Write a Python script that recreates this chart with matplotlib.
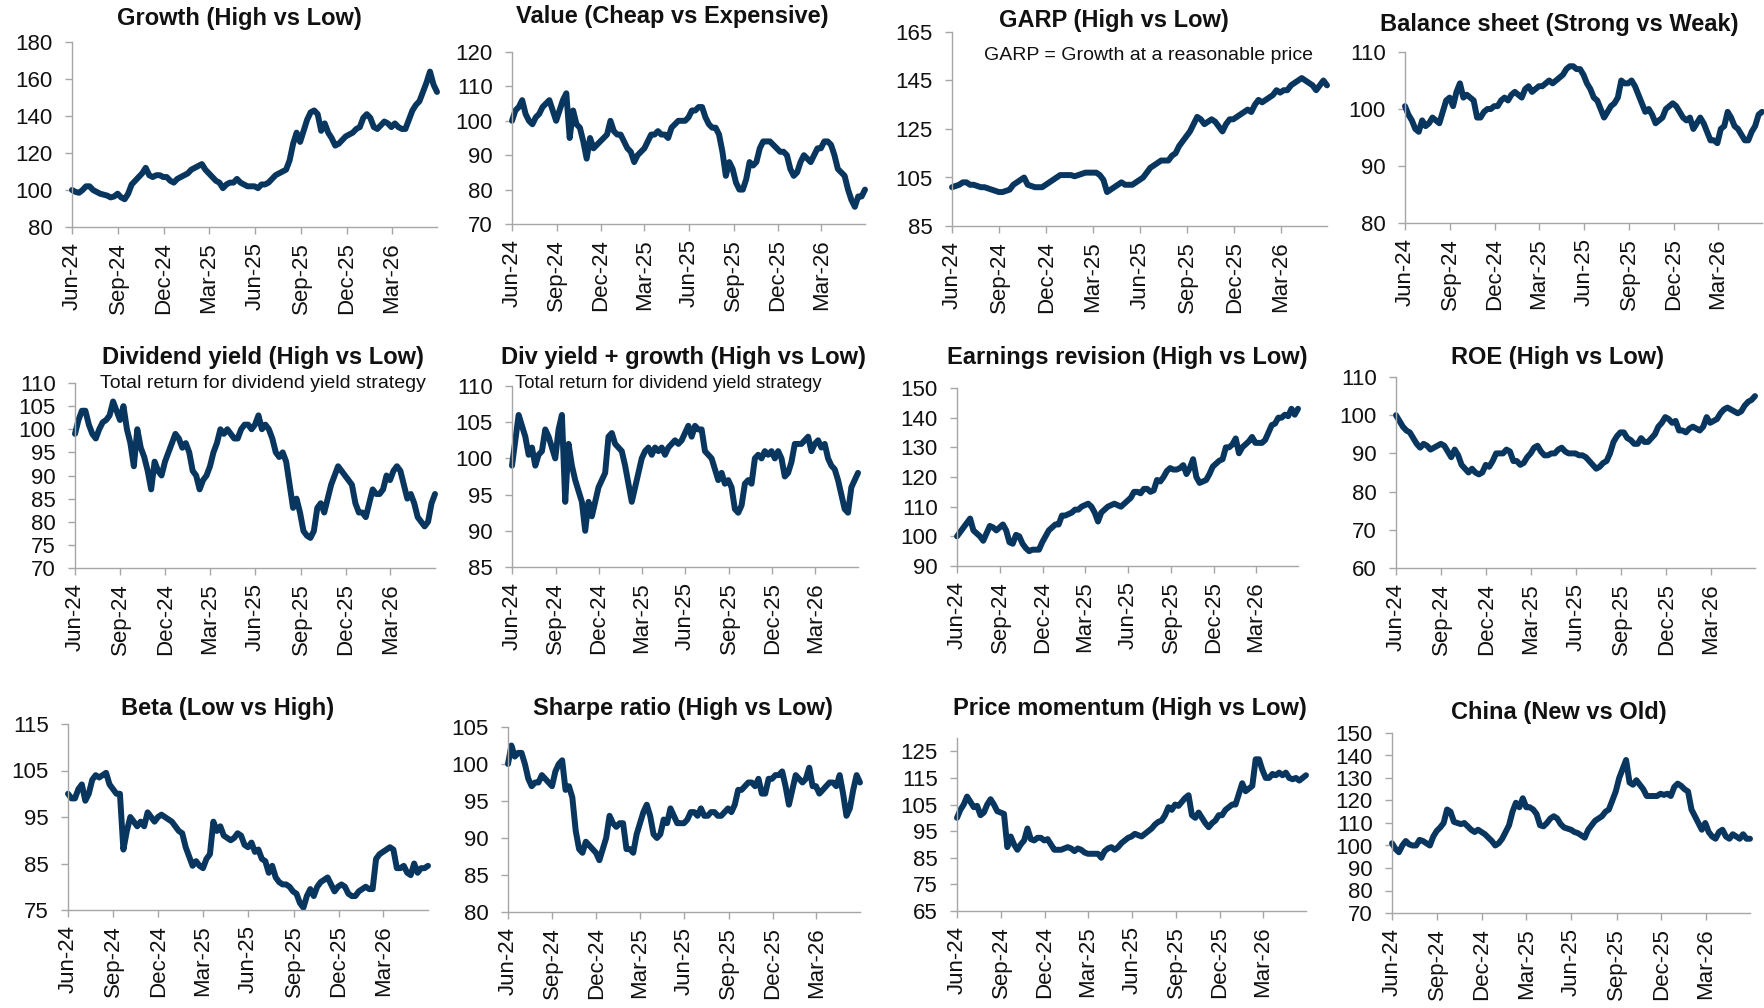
import matplotlib
matplotlib.use("Agg")
import matplotlib.pyplot as plt
import pandas as pd

plt.rcParams['font.family'] = ['Liberation Sans', 'DejaVu Sans']

# ---------------- data (weekly, Jun-2024 .. May-2026) ----------------
dates = pd.date_range('2024-06-01', periods=105, freq='7D')
tick_dates = pd.date_range('2024-06-01', '2026-03-01', freq='3MS')
tick_labels = ['Jun-24', 'Sep-24', 'Dec-24', 'Mar-25', 'Jun-25', 'Sep-25', 'Dec-25', 'Mar-26']

growth = [100, 99, 98.5, 100, 102, 102, 100, 99, 98, 97.5, 97, 96, 96.5, 98,
          96, 95, 98, 103, 105, 107, 109, 112, 108, 107, 108, 108, 107,
          107, 105, 104, 106, 107, 108, 109, 111, 112, 113, 114, 111,
          109, 107, 105, 104, 101, 103, 104, 104, 106, 104, 103, 102, 102, 102,
          101, 103, 103, 104, 106, 108, 109, 110, 111, 116, 125, 131, 126,
          132, 138, 142, 143, 141, 132, 136, 131, 128, 124, 125, 127, 129,
          130, 131, 133, 134, 139, 141, 139, 134, 133, 135, 137, 136, 134,
          136, 134, 133, 133, 138, 143, 146, 148, 153, 158, 164, 157, 153]

value = [100, 103, 104, 106, 102, 100, 99, 101, 102, 104, 105, 106, 103, 100,
         103, 106, 108, 95, 103, 99, 98, 94, 89, 95, 92, 93, 94,
         95, 96, 100, 97, 96, 96, 94, 92, 91, 88, 90, 91,
         92, 94, 96, 96, 97, 96, 96, 95, 98, 99, 100, 100, 100, 101,
         103, 103, 104, 104, 101, 99, 98, 98, 96, 91, 84, 88, 86,
         82, 80, 80, 83, 88, 87, 88, 92, 94, 94, 94, 93, 92,
         91, 91, 90, 86, 84, 85, 88, 90, 89, 88, 90, 92, 92,
         94, 94, 93, 90, 86, 85, 84, 80, 77, 75, 78, 78, 80]

garp = [101, 101.5, 102, 103, 103, 102, 102, 101.5, 101, 101, 100.5, 100, 99.5, 99,
        99, 99.5, 100, 102, 103, 104, 105, 102, 101.5, 101, 101, 101, 102,
        103, 104, 105, 106, 106, 106, 106, 105.5, 106, 106.5, 107, 107,
        107, 107, 106, 104, 99, 100, 101, 102, 103, 102, 102, 102, 103, 104,
        105, 107, 109, 110, 111, 112, 112, 112, 114, 115, 118, 120, 122,
        124, 127, 130, 129, 127, 128, 129, 128, 126, 124, 127, 129, 129,
        130, 131, 132, 133, 132, 135, 137, 136, 137, 138, 139, 141, 140,
        141, 141, 143, 144, 145, 146, 145, 144, 143, 141, 143, 145, 143]

balance = [100.5, 99, 98, 96.5, 96, 98, 97, 97.5, 98.5, 98, 97.5, 99.5, 101.5, 102,
           100.5, 103, 104.5, 102, 102.5, 102, 101.5, 98.5, 98.5, 99.5, 100, 100, 100.5,
           100.5, 101.5, 102, 101.5, 102.5, 103, 102.5, 102, 103.5, 104, 103, 103.5,
           104, 104, 104.5, 105, 104.5, 105, 105.5, 106, 107, 107.5, 107.5, 107, 107, 106,
           104.5, 103.5, 102, 101.5, 100, 98.5, 99.5, 100.5, 101, 102, 105, 104.5, 104.5,
           105, 104, 102.5, 101, 99.5, 100, 99, 97.5, 98, 98.5, 100, 100.5, 101,
           100.5, 99.5, 98.5, 98, 98.5, 96.5, 97.5, 98.5, 97.5, 96, 94.5, 94.5, 94,
           96.5, 97, 99.5, 98.5, 97, 96.5, 95.5, 94.5, 94.5, 96, 97, 99, 99.5]

div_yield = [99, 102, 104, 104, 101, 99, 98, 100, 101.5, 102, 103, 106, 104, 102,
             105, 100, 97, 92, 100, 96, 94, 91, 87, 93, 91, 90, 93,
             95, 97, 99, 98, 96, 97, 95, 91, 90, 87, 89, 90,
             92, 95, 97, 100, 99, 100, 99, 98, 98, 100, 101, 101, 100, 101,
             103, 100, 101, 100, 98, 95, 94, 95, 93, 88, 83, 85, 82,
             78, 77, 76.5, 78, 83, 84, 82, 85, 88, 90, 92, 91, 90,
             89, 88, 84, 82, 82, 81, 84, 87, 86, 86, 87, 90, 89,
             91, 92, 91, 88, 85, 86, 84, 81, 80, 79, 80, 84, 86]

div_growth = [99, 102.5, 106, 104.5, 103, 100.5, 101.5, 99, 100.5, 101, 104, 103, 101.5, 100,
              104, 106, 94, 102, 99, 97, 95.5, 94, 90, 94, 92, 94, 96,
              97, 98, 103, 103.5, 102, 101.5, 101, 99, 96.5, 94, 96, 98,
              100, 101, 101.5, 100.5, 101.5, 101, 101.5, 100.5, 101.5, 102, 102.5, 102, 102.5, 103.5,
              104.5, 103, 104.5, 104, 104, 101, 100.5, 100, 98.5, 97, 98, 96.5, 97,
              96, 93, 92.5, 93.5, 96.5, 97, 96.5, 100, 100.5, 100, 101, 100.5, 101,
              100, 101, 100, 97.5, 98, 99.5, 102, 102, 102, 102.5, 103, 101, 102,
              102.5, 101.5, 102, 100, 99, 98.5, 97, 95, 93, 92.5, 96, 97, 98]

earnings = [100, 101.5, 103, 104.5, 106, 102, 101, 100, 98.5, 101, 103.5, 103, 102, 103,
            104, 102, 98, 97.5, 100.5, 100, 97.5, 96, 95, 95.5, 95.5, 95.5, 98,
            100, 102, 103, 104, 104, 107, 107, 107.5, 108, 109, 109, 110,
            110.5, 111, 110, 108, 105, 108, 109, 110, 110.5, 111, 110.5, 110, 111, 112,
            113, 115, 115, 114.5, 116, 116, 115, 115.5, 119, 118.5, 120, 122, 123,
            122.5, 122.5, 123, 124, 121, 123, 126, 120, 118, 118.5, 119, 121, 123.5,
            124.5, 125.5, 126, 130, 130, 131, 133, 128, 130, 131, 132, 133.5, 131.5,
            131.5, 131.5, 132.5, 135, 137.5, 138, 140, 140, 141, 140.5, 143, 141, 143]

roe = [100, 98.5, 97, 96, 95.5, 94, 92.5, 91.5, 92.5, 92, 91, 91.5, 92, 92.5,
       92, 90.5, 89, 91, 89.5, 87, 86, 85, 86, 85, 84.5, 85, 87,
       86.5, 88, 90, 90, 90, 91, 90.5, 88, 88, 87, 87.5, 89,
       90, 91.5, 92, 90.5, 89.5, 89.5, 90, 90, 91, 91.5, 90.5, 90, 90, 90,
       89.5, 89.5, 89, 88, 87, 86, 86.5, 87.5, 88, 90, 93, 94.5, 95.5,
       95.5, 94, 93.5, 92.5, 92.5, 94, 93, 93, 94, 95, 97, 98, 99.5,
       99, 98, 98.5, 96, 96, 95.5, 96.5, 97, 96.5, 96, 97, 99.5, 98,
       98.5, 99, 100.5, 101.5, 102, 101.5, 101, 100.5, 101, 102.5, 103.5, 104, 105]

beta = [100, 99, 99, 101, 102, 98.5, 100, 103, 104, 103.5, 104, 104.5, 102, 101,
        100, 100, 88, 92, 95, 94, 93, 94, 93, 96, 95, 94, 95,
        95.5, 95, 94.5, 94, 93, 92, 91.5, 88.5, 86.5, 84.5, 85.5, 84.5,
        84, 86, 87, 94, 92, 93, 91, 90.5, 90, 90.5, 91.5, 91, 89, 88.5,
        89.5, 87.5, 88, 86, 85.5, 83, 84.5, 82, 81, 80.5, 80.5, 80, 79,
        78.5, 76.5, 75.5, 78, 79.5, 78, 80, 81, 81.5, 82, 80.5, 79, 80,
        80.5, 80, 78.5, 78, 78, 79, 79.5, 80, 79.5, 79.5, 86, 87, 87.5,
        88, 88.5, 88, 84, 84, 84.5, 83, 82.5, 85, 83, 84, 84, 84.5]

sharpe = [100, 102.5, 101, 101.5, 101.5, 100, 98, 97, 97.5, 97.5, 98.5, 98, 97.5, 97,
          99, 100, 100.5, 96.5, 97, 95.5, 91, 88.5, 88, 89.5, 89, 88.5, 88,
          87, 88.5, 90, 93, 92, 91.5, 92, 92, 88.5, 88.5, 88, 90.5,
          92, 93.5, 94.5, 93, 90.5, 90, 90.5, 92.5, 92, 94, 93, 92, 92, 92,
          92.5, 93.5, 93.5, 93, 94, 93, 93, 93.5, 93.5, 93, 93, 93.5, 94,
          93.5, 94.5, 96.5, 96.5, 97, 97.5, 97.5, 97, 98, 96, 96, 98, 98,
          98.5, 98.5, 99, 97, 94.5, 96.5, 98.5, 98, 97.5, 98, 99.5, 97, 97,
          96, 96.5, 97, 97.5, 97.5, 97, 98.5, 96, 93, 94, 96.5, 98.5, 97.5]

momentum = [100, 103, 105, 108, 106, 104, 104.5, 101, 102, 105, 107, 105, 102.5, 102,
            101.5, 89, 93, 90, 88, 90, 91.5, 96, 92, 91.5, 92.5, 92.5, 91.5,
            92, 90, 88, 88, 88, 88.5, 89, 88.5, 87.5, 88.5, 88, 87,
            86.5, 86.5, 86.5, 86.5, 85, 87.5, 88.5, 89, 88, 89, 90.5, 91.5, 92.5, 93,
            94, 93.5, 93, 94, 95, 96, 97.5, 98.5, 99, 101, 104, 103, 105,
            104.5, 106, 107.5, 108.5, 101, 100, 102, 100, 98, 96.5, 98, 99, 101,
            101, 103, 104, 105, 105, 109, 113, 110, 111, 112, 122, 122, 118,
            115, 115, 116.5, 116, 117, 116, 117, 115, 114.5, 115, 114, 115, 116]

china = [101, 98.5, 97, 100, 102, 100.5, 100, 100, 102.5, 102, 101, 100, 104, 106.5,
         108, 110, 116, 115, 110.5, 110, 109.5, 110, 108.5, 107, 106, 107, 106,
         105, 103.5, 102, 100, 101, 103, 106, 109, 115, 119, 117, 121,
         117, 117, 116, 114, 109, 108.5, 110, 112, 113, 112, 109.5, 108, 107.5, 107,
         106, 105.5, 104.5, 103.5, 107, 109, 111, 112, 113, 115, 116, 120, 124,
         130, 134, 138, 128, 127, 129, 127, 125, 122, 122, 122, 122, 123,
         122.5, 123, 122, 126, 127.5, 126.5, 125, 124, 116, 113, 110, 107, 110,
         106, 104, 103, 106, 107, 104, 103, 105, 104, 103, 105, 103, 103]

titles = ['Growth (High vs Low)', 'Value (Cheap vs Expensive)', 'GARP (High vs Low)',
          'Balance sheet (Strong vs Weak)', 'Dividend yield (High vs Low)',
          'Div yield + growth (High vs Low)', 'Earnings revision (High vs Low)',
          'ROE (High vs Low)', 'Beta (Low vs High)', 'Sharpe ratio (High vs Low)',
          'Price momentum (High vs Low)', 'China (New vs Old)']
series = [growth, value, garp, balance, div_yield, div_growth, earnings, roe,
          beta, sharpe, momentum, china]

# ---------------- layout / style ----------------
W, H = 1765, 1008
NAVY = '#08365F'
GREY = '#A6A6A6'

# (left, top, right, bottom) of plot area in pixels
boxes = [(72, 42, 437, 227), (512, 52, 865, 224), (952, 32, 1327, 226), (1405, 52, 1762, 223),
         (75, 383, 435, 568), (512, 386, 858, 567), (957, 388, 1298, 566), (1396, 377, 1755, 568),
         (68, 724, 428, 910), (508, 727, 860, 912), (957, 738, 1306, 911), (1392, 733, 1750, 913)]
ylims = [(80, 180, 20), (70, 120, 10), (85, 165, 20), (80, 110, 10),
         (70, 110, 5), (85, 110, 5), (90, 150, 10), (60, 110, 10),
         (75, 115, 10), (80, 105, 5), (65, 130, 10), (70, 150, 10)]
title_pos = [(239, 19), (672, 16), (1114, 21), (1559, 25),
             (263, 357), (683, 357), (1127, 357), (1558, 357),
             (228, 708), (683, 708), (1130, 708), (1559, 712)]

fig = plt.figure(figsize=(W / 100, H / 100), dpi=100)

for i, (vals, title) in enumerate(zip(series, titles)):
    assert len(vals) == len(dates), (title, len(vals))
    l, t, r, b = boxes[i]
    ax = fig.add_axes([l / W, 1 - b / H, (r - l) / W, (b - t) / H])
    ax.plot(dates, vals, color=NAVY, lw=4.3, solid_joinstyle='round',
            solid_capstyle='round', clip_on=False)
    y0, y1, step = ylims[i]
    ax.set_xlim(dates[0], dates[-1])
    ax.set_ylim(y0, y1)
    top_tick = y1 if i != 10 else 125
    ax.set_yticks(list(range(y0, top_tick + 1, step)))
    ax.set_xticks(tick_dates)
    ax.set_xticklabels(tick_labels, rotation=90)
    for s in ['top', 'right']:
        ax.spines[s].set_visible(False)
    for s in ['left', 'bottom']:
        ax.spines[s].set_color(GREY)
        ax.spines[s].set_linewidth(1.0)
    ax.tick_params(axis='both', colors=GREY, labelcolor='#111111', labelsize=16,
                   length=5, width=1.0, direction='out')
    ax.tick_params(axis='x', pad=6)
    ax.tick_params(axis='y', pad=9)
    tx, ty = title_pos[i]
    fig.text(tx / W, 1 - ty / H, title, ha='center', va='center',
             fontsize=17, fontweight='bold', color='#111111')

fig.text(1149 / W, 1 - 55 / H, 'GARP = Growth at a reasonable price',
         ha='center', va='center', fontsize=14, color='#111111')
fig.text(426 / W, 1 - 383 / H, 'Total return for dividend yield strategy',
         ha='right', va='center', fontsize=14, color='#111111')
fig.text(515 / W, 1 - 383 / H, 'Total return for dividend yield strategy',
         ha='left', va='center', fontsize=13.3, color='#111111')

fig.savefig('out.png', dpi=100, facecolor='white')
